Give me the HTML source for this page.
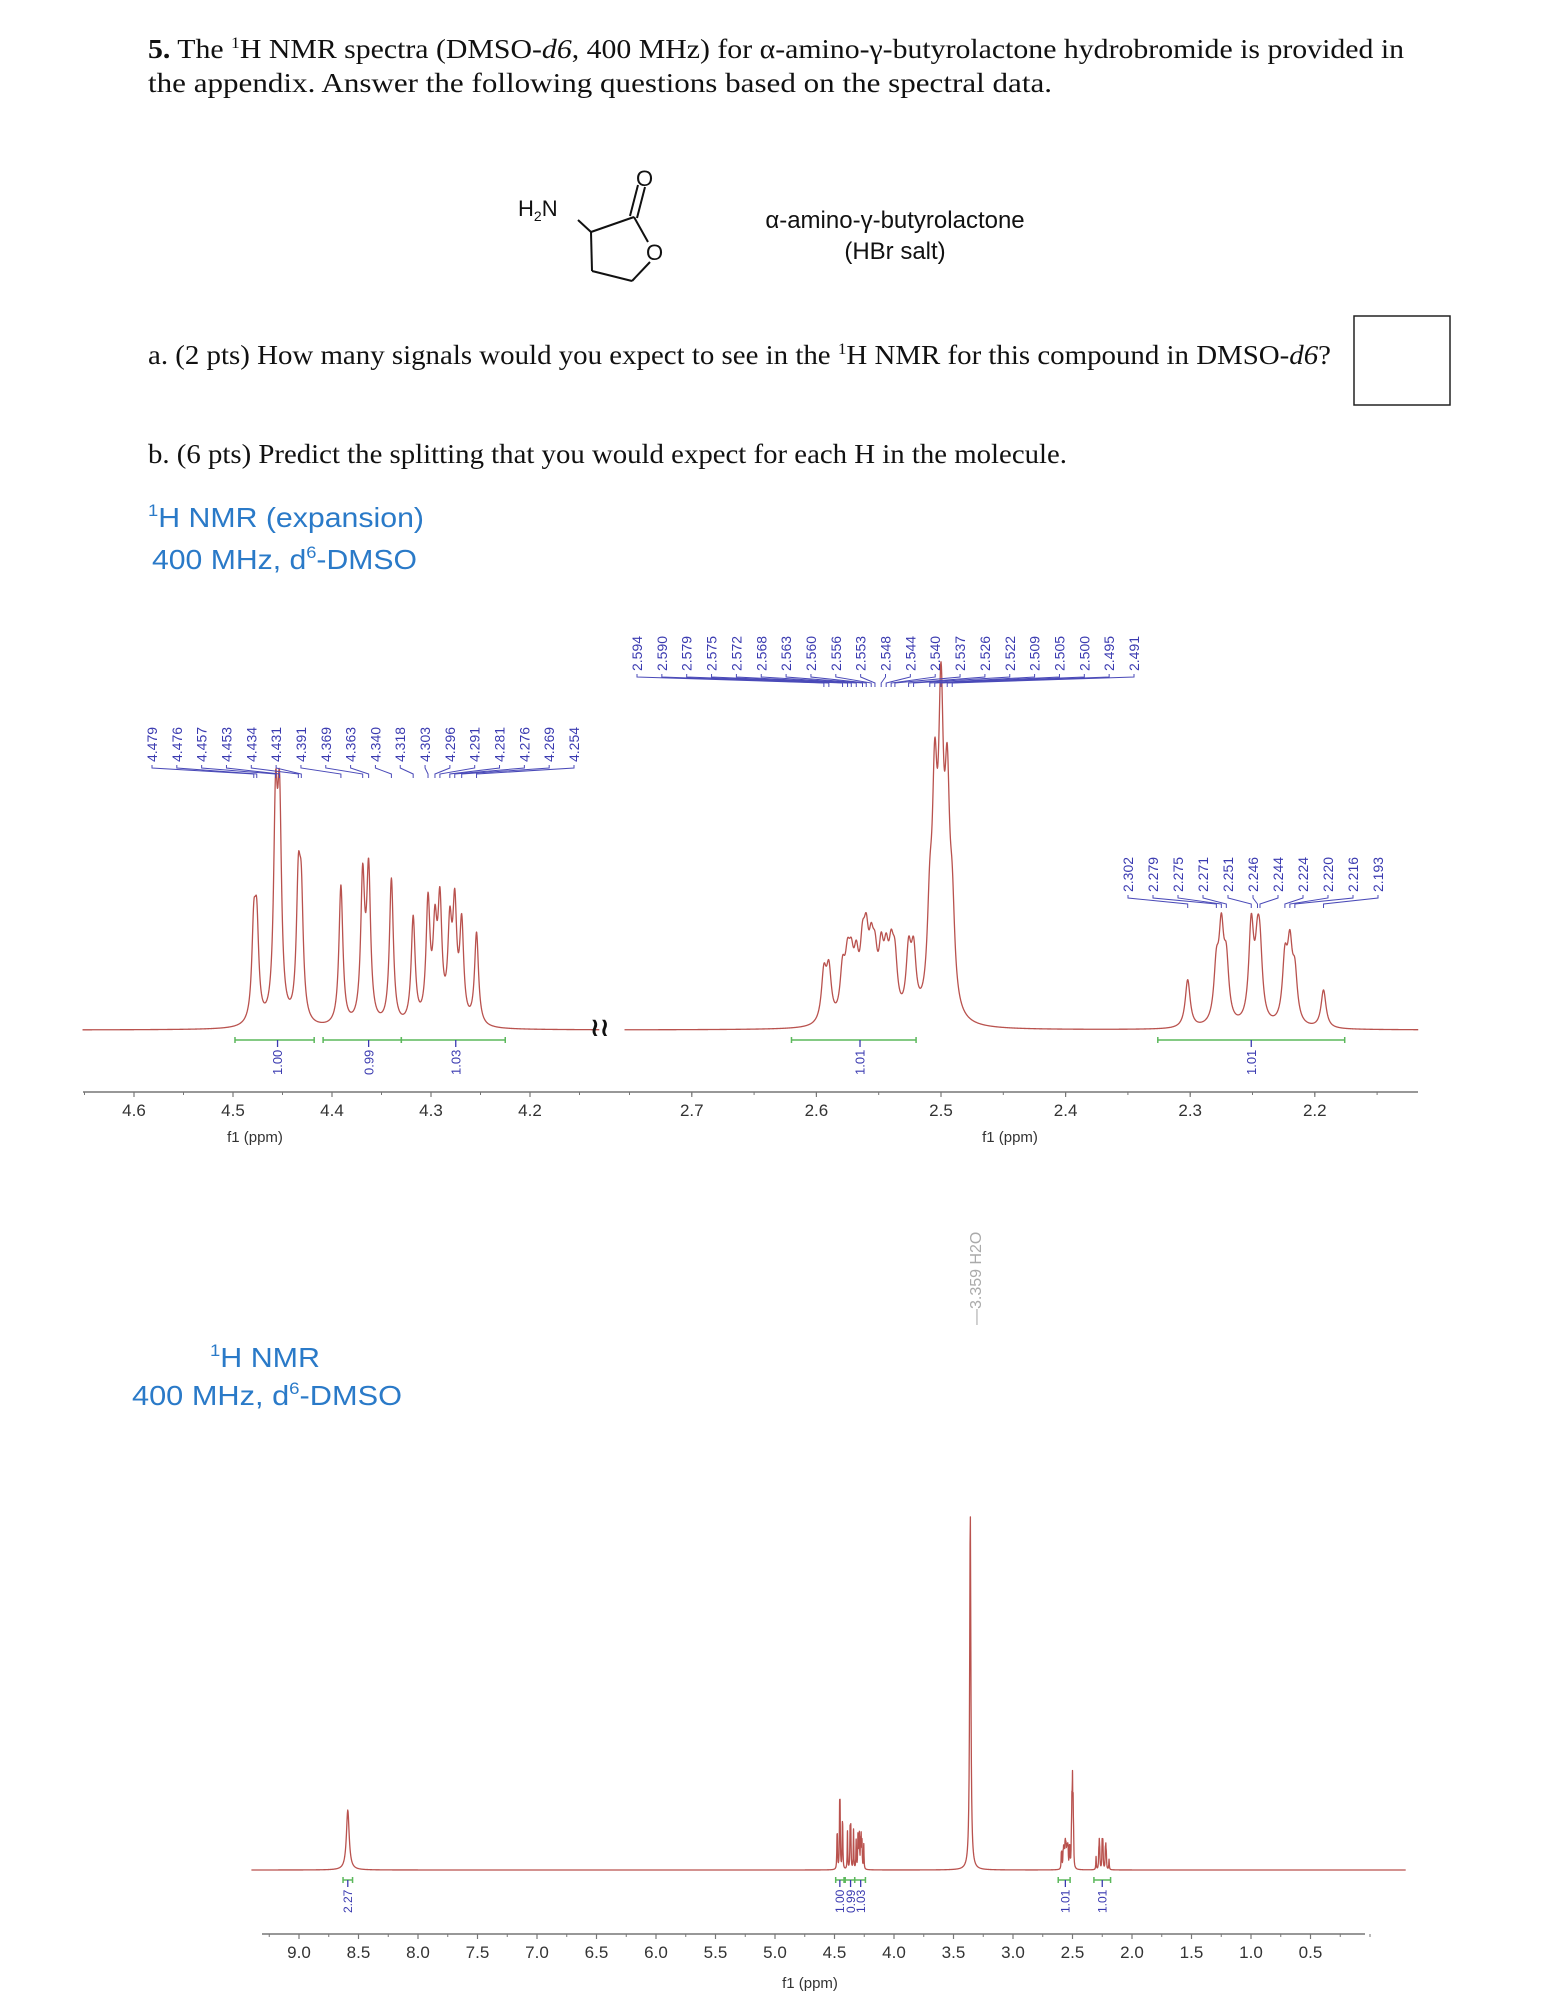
<!DOCTYPE html>
<html><head><meta charset="utf-8"><title>NMR question</title>
<style>
html,body{margin:0;padding:0;background:#fff;}
svg{display:block;}
.serif{font-family:"Liberation Serif",serif;}
.sans{font-family:"Liberation Sans",sans-serif;}
</style></head>
<body>
<svg id="page" xmlns="http://www.w3.org/2000/svg" width="1545" height="2000" viewBox="0 0 1545 2000">
  <g class="serif" font-size="27" fill="#111">
    <text x="148" y="58" textLength="1256" lengthAdjust="spacingAndGlyphs"><tspan font-weight="bold">5.</tspan> The <tspan font-size="16" dy="-10">1</tspan><tspan dy="10">H NMR spectra (DMSO-</tspan><tspan font-style="italic">d6</tspan>, 400 MHz) for α-amino-γ-butyrolactone hydrobromide is provided in</text>
    <text x="148" y="92" textLength="904" lengthAdjust="spacingAndGlyphs">the appendix.  Answer the following questions based on the spectral data.</text>
    <text x="148" y="364" textLength="1183" lengthAdjust="spacingAndGlyphs">a. (2 pts) How many signals would you expect to see in the <tspan font-size="16" dy="-10">1</tspan><tspan dy="10">H NMR for this compound in DMSO-</tspan><tspan font-style="italic">d6</tspan>?</text>
    <text x="148" y="463" textLength="919" lengthAdjust="spacingAndGlyphs">b. (6 pts) Predict the splitting that you would expect for each H in the molecule.</text>
  </g>
  <rect x="1354" y="316" width="96" height="89" fill="none" stroke="#222" stroke-width="1.5"/>

  <g stroke="#111" stroke-width="2" fill="none">
    <line x1="578" y1="220" x2="591" y2="232"/>
    <line x1="591" y1="232" x2="634" y2="217"/>
    <line x1="630" y1="216" x2="638" y2="185"/>
    <line x1="637" y1="218" x2="645" y2="187"/>
    <line x1="634" y1="217" x2="648" y2="242"/>
    <line x1="650" y1="262" x2="632" y2="281"/>
    <line x1="632" y1="281" x2="592" y2="271"/>
    <line x1="592" y1="271" x2="591" y2="232"/>
  </g>
  <g class="sans" font-size="22" fill="#111">
    <text x="518" y="216">H<tspan font-size="14" dy="5">2</tspan><tspan dy="-5">N</tspan></text>
    <text x="636" y="186">O</text>
    <text x="646" y="260">O</text>
  </g>
  <g class="sans" font-size="24" fill="#111" text-anchor="middle">
    <text x="895" y="228">α-amino-γ-butyrolactone</text>
    <text x="895" y="259">(HBr salt)</text>
  </g>

  <g class="sans" font-size="28" fill="#2a7ac8">
    <text x="148" y="527" textLength="276" lengthAdjust="spacingAndGlyphs"><tspan font-size="17" dy="-11">1</tspan><tspan dy="11">H NMR (expansion)</tspan></text>
    <text x="152" y="569" textLength="265" lengthAdjust="spacingAndGlyphs">400 MHz, d<tspan font-size="17" dy="-11">6</tspan><tspan dy="11">-DMSO</tspan></text>
  </g>
  <g class="sans" font-size="28" fill="#2a7ac8">
    <text x="210" y="1367" textLength="110" lengthAdjust="spacingAndGlyphs"><tspan font-size="17" dy="-11">1</tspan><tspan dy="11">H NMR</tspan></text>
    <text x="132" y="1405" textLength="270" lengthAdjust="spacingAndGlyphs">400 MHz, d<tspan font-size="17" dy="-11">6</tspan><tspan dy="11">-DMSO</tspan></text>
  </g>

  <g id="charts"></g>
</svg>
<script>
// ---- data (ppm positions and peak heights) ----
const leftPeaks = [4.479,4.476,4.457,4.453,4.434,4.431,4.391,4.369,4.363,4.340,4.318,4.303,4.296,4.291,4.281,4.276,4.269,4.254];
const leftHeights = [88,90,200,200,125,110,140,142,148,146,106,118,85,112,88,108,96,92];
const rightPeaks = [2.594,2.590,2.579,2.575,2.572,2.568,2.563,2.560,2.556,2.553,2.548,2.544,2.540,2.537,2.526,2.522,2.509,2.505,2.500,2.495,2.491];
const rightHeights = [48,50,46,48,44,48,56,62,52,46,56,50,52,50,62,60,86,200,280,196,86];
const lowPeaks = [2.302,2.279,2.275,2.271,2.251,2.246,2.244,2.224,2.220,2.216,2.193];
const lowHeights = [48,52,86,56,96,58,58,60,70,46,38];
const extraPeaks = [8.59,3.359];
const extraHeights = [60,360];
const extraWidths = [0.014,0.006];
const leftTicks = [4.6,4.5,4.4,4.3,4.2];
const rightTicks = [2.7,2.6,2.5,2.4,2.3,2.2];
const fullTicks = [9.0,8.5,8.0,7.5,7.0,6.5,6.0,5.5,5.0,4.5,4.0,3.5,3.0,2.5,2.0,1.5,1.0,0.5];
const topIntegrals = [[4.498,4.418,4.455,"1.00"],[4.409,4.330,4.363,"0.99"],[4.330,4.225,4.275,"1.03"],[2.620,2.520,2.565,"1.01"],[2.326,2.176,2.251,"1.01"]];
const fullIntegrals = [[8.63,8.55,8.59,"2.27"],[4.49,4.42,4.455,"1.00"],[4.41,4.33,4.365,"0.99"],[4.33,4.24,4.28,"1.03"],[2.62,2.52,2.56,"1.01"],[2.32,2.18,2.25,"1.01"]];

const NS = "http://www.w3.org/2000/svg";
const root = document.getElementById('charts');
function mk(tag, attrs, parent){
  const e = document.createElementNS(NS, tag);
  for (const k in attrs) e.setAttribute(k, attrs[k]);
  (parent||root).appendChild(e);
  return e;
}
// axis functions
const xL = d => 233 + (4.5 - d) * 990;
const xR = d => 941 + (2.5 - d) * 1246;
const xB = d => 299 + (9 - d) * 119;
const GAM = 0.0024;
function lor(d, c, h, g){ const t=(d-c)/g; return h/(1+t*t); }
function specVal(d, peaks, heights, scale){
  let s = 0;
  for (let i=0;i<peaks.length;i++) s += lor(d, peaks[i], heights[i]*scale, GAM);
  return s;
}
function drawSpectrum(name, xf, d0, d1, baseY, sets, scale, extras){
  const pts = [];
  const n = Math.ceil(Math.abs(xf(d1)-xf(d0))*3);
  const ds = [];
  for (let i=0;i<=n;i++) ds.push(d0 + (d1-d0)*i/n);
  sets.forEach(s => s[0].forEach(p => { if (p<=Math.max(d0,d1) && p>=Math.min(d0,d1)) { ds.push(p); ds.push(p-0.0005); ds.push(p+0.0005);} }));
  ds.sort((a,b)=>b-a);
  ds.forEach(d => {
    let v = 0;
    sets.forEach(s => v += specVal(d, s[0], s[1], scale));
    if (extras) for (let i=0;i<extraPeaks.length;i++) v += lor(d, extraPeaks[i], extraHeights[i], extraWidths[i]);
    pts.push(xf(d).toFixed(2)+","+(baseY - v).toFixed(2));
  });
  const p = mk('polyline', {points: pts.join(" "), fill:"none", stroke:"#b9524e", "stroke-width":"1.3", "stroke-linejoin":"round"});
  
  
}
// ---- top expansion spectrum ----
drawSpectrum('expansion-trace-4ppm', xL, 4.652, 4.13, 1030, [[leftPeaks,leftHeights]], 1, false);
drawSpectrum('expansion-trace-2ppm', xR, 2.754, 2.117, 1030, [[rightPeaks,rightHeights],[lowPeaks,lowHeights]], 1, false);
const brk = mk('text', {x:"590", y:"1036", "font-size":"26", "font-weight":"bold", fill:"#111", "font-family":"DejaVu Sans, sans-serif"});
brk.textContent = "≀≀";



// top axis
const ax = mk('line', {x1:"83", y1:"1092", x2:"1418", y2:"1092", stroke:"#777", "stroke-width":"1.5"});


function tickSet(ticks, xf, y, name, minorStep, dmin, dmax){
  ticks.forEach(t => {
    const l = mk('line', {x1:xf(t), y1:y, x2:xf(t), y2:y+5, stroke:"#777", "stroke-width":"1.2"});
    
    
    const tx = mk('text', {x:xf(t), y:y+24, "text-anchor":"middle", "font-size":"17", fill:"#333", "font-family":"Liberation Sans, sans-serif"});
    tx.textContent = t.toFixed(1);
    
    
  });
  for (let d = Math.ceil(dmin/minorStep)*minorStep; d <= dmax; d += minorStep){
    const m = mk('line', {x1:xf(d), y1:y, x2:xf(d), y2:y+3, stroke:"#777", "stroke-width":"1"});
    
    
  }
}
tickSet(leftTicks, xL, 1092, 'expansion-left-axis', 0.05, 4.14, 4.65);
tickSet(rightTicks, xR, 1092, 'expansion-right-axis', 0.05, 2.12, 2.75);
function axisTitle(x, y, name){
  const t = mk('text', {x:x, y:y, "text-anchor":"middle", "font-size":"15", fill:"#333", "font-family":"Liberation Sans, sans-serif"});
  t.textContent = "f1 (ppm)";
  
  
}
axisTitle(255, 1142, 'expansion-left-x-axis-title');
axisTitle(1010, 1142, 'expansion-right-x-axis-title');

// peak labels
function peakLabels(peaks, xf, x0, x1, textBottom, name){
  const n = peaks.length;
  peaks.forEach((p, i) => {
    const lx = x0 + (x1-x0)*i/(n-1);
    const t = mk('text', {x:(lx+5), y:textBottom, transform:`rotate(-90 ${lx+5} ${textBottom})`, "font-size":"14", fill:"#3a3ab0", "font-family":"Liberation Sans, sans-serif"});
    t.textContent = p.toFixed(3);
    
    
    const px = xf(p);
    const c = mk('polyline', {points:`${lx},${textBottom+3} ${lx},${textBottom+6} ${px},${textBottom+12} ${px},${textBottom+16}`, fill:"none", stroke:"#4a4ab8", "stroke-width":"1"});
    
    
  });
}
peakLabels(leftPeaks, xL, 152, 574, 762, 'peak-4ppm');
peakLabels(rightPeaks, xR, 637, 1134, 671, 'peak-2-5ppm');
peakLabels(lowPeaks, xR, 1128, 1378, 892, 'peak-2-2ppm');

// integrals
function integrals(list, xf, y, fs, name){
  list.forEach(it => {
    const g = mk('g', {});
    
    
    const a = xf(it[0]), b = xf(it[1]), c = xf(it[2]);
    mk('line', {x1:a, y1:y, x2:b, y2:y, stroke:"#5cb85c", "stroke-width":"1.5"}, g);
    mk('line', {x1:a, y1:y-3, x2:a, y2:y+3, stroke:"#5cb85c", "stroke-width":"1.5"}, g);
    mk('line', {x1:b, y1:y-3, x2:b, y2:y+3, stroke:"#5cb85c", "stroke-width":"1.5"}, g);
    mk('line', {x1:c, y1:y, x2:c, y2:y+7, stroke:"#3a3ab0", "stroke-width":"1.3"}, g);
    const ty = y + 9 + fs*2;
    const t = mk('text', {x:c+fs*0.36, y:ty, transform:`rotate(-90 ${c+fs*0.36} ${ty})`, "font-size":fs, fill:"#3a3ab0", "font-family":"Liberation Sans, sans-serif"}, g);
    t.textContent = it[3];
  });
}
integrals(topIntegrals.slice(0,3), xL, 1040, 13, 'expansion-integral');
integrals(topIntegrals.slice(3), xR, 1040, 13, 'expansion-integral');

// ---- bottom full spectrum ----
drawSpectrum('full-spectrum-trace', xB, 9.4, -0.3, 1870, [[leftPeaks,leftHeights],[rightPeaks,rightHeights],[lowPeaks,lowHeights]], 0.27, true);
const bax = mk('line', {x1:"262", y1:"1934", x2:"1365", y2:"1934", stroke:"#777", "stroke-width":"1.5"});


tickSet(fullTicks, xB, 1934, 'full-axis', 0.25, 0.0, 9.3);
axisTitle(810, 1988, 'full-x-axis-title');
integrals(fullIntegrals, xB, 1880, 12, 'full-integral');
const wl = mk('text', {x:"981", y:"1325", transform:"rotate(-90 981 1325)", "font-size":"16", fill:"#aaa", "font-family":"Liberation Sans, sans-serif"});
wl.textContent = "—3.359 H2O";


</script>
</body></html>
